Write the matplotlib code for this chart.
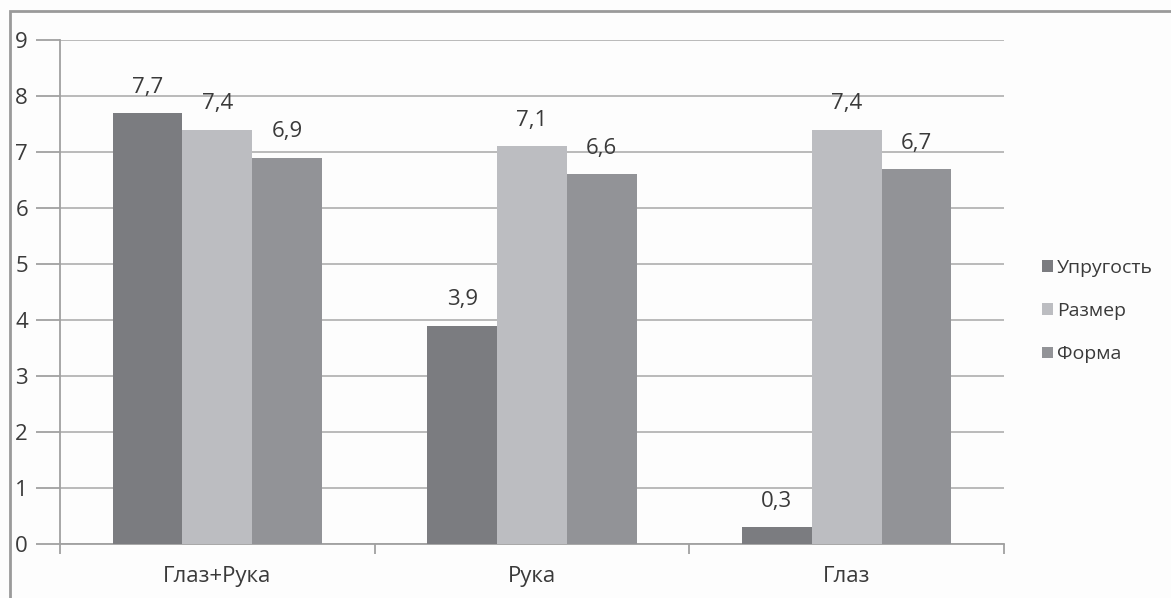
import matplotlib.pyplot as plt
from matplotlib.patches import Rectangle
import numpy as np

plt.rcParams['font.family'] = ['Open Sans', 'DejaVu Sans']

# scores per method and criterion
groups = ['Глаз+Рука', 'Рука', 'Глаз']
series = ['Упругость', 'Размер', 'Форма']
uprugost = [7.7, 3.9, 0.3]
razmer = [7.4, 7.1, 7.4]
forma = [6.9, 6.6, 6.7]
colors = ['#7b7c80', '#bcbdc1', '#929397']
txt = '#3a3a3a'

fig = plt.figure(figsize=(11.71, 5.98), dpi=100, facecolor='#fdfdfd')
ax = fig.add_axes([60 / 1171, 54 / 598, 944 / 1171, 504 / 598])
ax.set_facecolor('#fdfdfd')

x = np.arange(len(groups))
w = 0.222
for i, (name, vals) in enumerate(zip(series, [uprugost, razmer, forma])):
    pos = x + (i - 1) * w
    ax.bar(pos, vals, width=w, color=colors[i], label=name, zorder=3)
    for p, v in zip(pos, vals):
        ax.annotate(f'{v:.1f}'.replace('.', ','), (p, v), xytext=(0, 11),
                    textcoords='offset points', ha='center', va='bottom',
                    fontsize=16, color=txt)

ax.set_xlim(-0.5, 2.5)
ax.set_ylim(0, 9)
ax.set_yticks(range(10))
ax.yaxis.grid(True, color='#b4b4b4', linewidth=1.3, zorder=0)
ax.set_xticks(x)
ax.set_xticklabels(groups, fontsize=16, color=txt)
ax.set_xticks([-0.5, 0.5, 1.5, 2.5], minor=True)
ax.tick_params(axis='x', which='major', length=0, pad=16)
ax.tick_params(axis='x', which='minor', length=7, color='#a0a0a0', width=1.3)
ax.tick_params(axis='y', length=17, color='#a0a0a0', width=1.3,
               labelsize=16, labelcolor=txt, pad=6)
for s in ['top', 'right']:
    ax.spines[s].set_visible(False)
for s in ['left', 'bottom']:
    ax.spines[s].set_color('#a0a0a0')
    ax.spines[s].set_linewidth(1.3)

leg = ax.legend(loc='center left', bbox_to_anchor=(1.022, 0.462), frameon=False,
                fontsize=14, handlelength=0.55, handleheight=0.55,
                handletextpad=0.2, labelspacing=1.3)
for t in leg.get_texts():
    t.set_color(txt)

# outer frame
fig.patches.append(Rectangle((10 / 1171, -0.05), 1.1, (598 - 11) / 598 + 0.05,
                             transform=fig.transFigure, fill=False,
                             edgecolor='#9a9a9a', linewidth=2))

fig.savefig('out.png', dpi=100, facecolor=fig.get_facecolor())
